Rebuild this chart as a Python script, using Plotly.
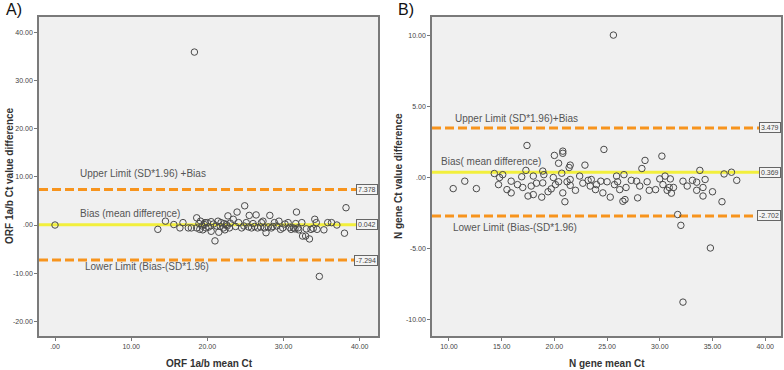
import plotly.graph_objects as go

# ---------------- Panel A data (ORF 1a/b) ----------------
orf_mean = [0.0, 13.5, 14.5, 15.6, 16.4, 16.8, 17.5, 17.9, 18.6, 18.6, 19.0, 19.1, 19.7, 19.8, 20.0,
            20.5, 21.0, 21.2, 21.4, 21.5, 21.8, 22.1, 22.5, 22.7, 22.9, 23.4, 23.9, 24.1, 24.5, 24.9,
            25.1, 25.5, 25.8, 26.4, 26.6, 27.1, 27.5, 27.7, 28.2, 28.4, 28.8, 29.4, 29.9, 30.6, 31.0,
            31.3, 31.7, 31.9, 32.5, 32.9, 33.4, 33.6, 34.1, 34.3, 34.7, 35.3, 35.8, 36.3, 37.0, 38.0,
            38.2, 18.3,
            18.9, 19.3, 19.6, 20.2, 20.8, 21.7, 22.2, 22.6, 22.3, 23.0, 23.7, 24.8, 25.4, 26.0, 26.2,
            27.0, 27.3, 28.0, 28.6, 29.1, 29.6, 30.2, 30.8, 31.5, 31.6, 32.0, 32.4, 33.0, 33.9, 34.4,
            20.5, 19.4]
orf_diff = [0.0, -0.9, 0.8, 0.1, -0.6, 0.5, -0.6, -0.6, 1.5, -0.6, -0.9, 0.8, 0.5, -0.6, 0.5,
            -1.3, -3.3, -0.2, 0.8, -1.5, 0.5, -0.6, 0.1, 1.9, -0.6, 1.2, 2.7, 0.5, -0.6, 4.0,
            0.5, 2.0, -0.6, 2.1, -0.6, 0.5, -0.6, -1.6, 2.0, -0.6, 0.5, 0.8, -0.6, 0.5, -0.9,
            -0.6, 2.7, -0.6, -2.3, -2.3, -2.9, -0.9, 1.2, 0.5, -10.7, -1.0, 0.5, 0.5, 0.0, -1.7,
            3.6, 36.0,
            0.3, -0.2, 0.1, -0.4, 0.2, -0.3, 0.3, -0.2, -1.0, 0.4, -0.3, -0.2, -0.4, 0.3, -0.3,
            -0.4, 0.8, -0.4, -0.3, -0.2, -0.9, 0.2, -0.5, -0.8, 0.3, -1.0, 0.5, -0.8, -0.7, -0.9,
            0.7, -1.0]
orf_upper, orf_bias, orf_lower = 7.378, 0.042, -7.294
orf_xticks = [0, 10, 20, 30, 40]
orf_xticklabels = [".00", "10.00", "20.00", "30.00", "40.00"]
orf_yticks = [-20, -10, 0, 10, 20, 30, 40]
orf_yticklabels = ["-20.00", "-10.00", ".00", "10.00", "20.00", "30.00", "40.00"]

# ---------------- Panel B data (N gene) ----------------
n_mean = [25.6, 17.4, 20.0, 20.8, 20.8, 24.7, 28.6, 30.2, 20.4, 21.5, 21.4, 22.9, 18.9, 17.3, 28.3,
          33.8, 36.8, 14.3, 20.7, 11.5, 14.8, 15.1, 15.9, 16.9, 18.0, 18.9, 19.9, 20.4, 21.5, 22.4,
          23.5, 24.4, 25.9, 26.6, 27.8, 28.8, 30.0, 30.5, 31.0, 32.2, 33.5, 34.3, 37.3,
          10.4, 12.6, 14.7, 15.5, 15.9, 17.0, 17.5, 18.0, 18.8, 19.4, 20.8, 21.0, 21.5, 23.4, 23.9,
          24.6, 25.3, 26.2, 26.5, 26.7, 26.8, 27.9, 29.6, 30.9, 31.3, 31.7, 32.0, 32.2, 33.5, 34.1,
          34.1, 35.0, 34.8, 35.9,
          16.5, 17.8, 18.3, 19.0, 19.7, 20.1, 21.2, 22.0, 22.7, 23.2, 24.0, 25.0, 25.7, 26.0, 27.3,
          28.1, 29.0, 30.3, 30.7, 31.1, 32.6, 33.1, 36.1]
n_diff = [10.0, 2.25, 1.55, 1.85, 1.7, 1.97, 1.2, 1.5, 1.0, 0.87, 0.7, 0.87, 0.45, 0.5, 0.63,
          0.5, 0.37, 0.28, 0.3, -0.26, 0.0, 0.2, -0.26, 0.05, 0.1, -0.38, 0.0, -0.3, -0.14, 0.1,
          -0.14, -0.26, 0.1, 0.2, -0.26, -0.3, -0.1, 0.1, -0.1, -0.26, -0.33, -0.14, -0.2,
          -0.78, -0.78, -0.5, -0.85, -1.08, -0.7, -1.3, -1.2, -1.38, -1.0, -1.08, -1.7, -0.55, -0.6, -0.85,
          -1.08, -1.38, -0.85, -1.67, -1.55, -0.7, -1.43, -0.85, -0.7, -0.7, -2.6, -3.36, -8.75, -0.9, -0.7,
          -1.3, -1.0, -4.95, -1.7,
          -0.5, -0.6, -0.4, 0.2, -0.8, -0.5, -0.3, -0.9, -0.4, -0.2, -0.5, -0.3, -0.5, -0.3, -0.2,
          -0.6, -0.9, -0.5, -0.9, -1.1, -0.6, -0.2, 0.25]
n_upper, n_bias, n_lower = 3.479, 0.369, -2.702
n_xticks = [10, 15, 20, 25, 30, 35, 40]
n_xticklabels = ["10.00", "15.00", "20.00", "25.00", "30.00", "35.00", "40.00"]
n_yticks = [-10, -5, 0, 5, 10]
n_yticklabels = ["-10.00", "-5.00", ".00", "5.00", "10.00"]

W, H = 784, 370
FONT = "Liberation Sans, Arial, sans-serif"
ORANGE = "#f7941d"
YELLOW = "#f2ef3c"
PT = "#4a4a4a"
DASH = "9px,4px"

fig = go.Figure()

panels = [
    dict(xa="x", ya="y", mean=orf_mean, diff=orf_diff, up=orf_upper, bias=orf_bias, lo=orf_lower,
         xr=[-2.1, 42.4], yr=[-23.1, 43.3]),
    dict(xa="x2", ya="y2", mean=n_mean, diff=n_diff, up=n_upper, bias=n_bias, lo=n_lower,
         xr=[8.39, 41.5], yr=[-11.13, 11.27]),
]

for p in panels:
    x0, x1 = p["xr"]
    fig.add_trace(go.Scatter(x=[x0, x1], y=[p["up"], p["up"]], mode="lines", xaxis=p["xa"], yaxis=p["ya"],
                             line=dict(color=ORANGE, width=3, dash=DASH), hoverinfo="skip", showlegend=False))
    fig.add_trace(go.Scatter(x=[x0, x1], y=[p["lo"], p["lo"]], mode="lines", xaxis=p["xa"], yaxis=p["ya"],
                             line=dict(color=ORANGE, width=3, dash=DASH), hoverinfo="skip", showlegend=False))
    fig.add_trace(go.Scatter(x=[x0, x1], y=[p["bias"], p["bias"]], mode="lines", xaxis=p["xa"], yaxis=p["ya"],
                             line=dict(color=YELLOW, width=3), hoverinfo="skip", showlegend=False))
    fig.add_trace(go.Scatter(x=p["mean"], y=p["diff"], mode="markers", xaxis=p["xa"], yaxis=p["ya"],
                             marker=dict(symbol="circle-open", size=6.5, color=PT, line=dict(width=1, color=PT)),
                             showlegend=False))

axis_common = dict(showgrid=False, zeroline=False, showline=True, mirror=True, linecolor="#7a7a7a",
                   linewidth=1.5, ticks="outside", ticklen=3, tickcolor="#777",
                   tickfont=dict(family=FONT, size=7, color="#444444"))

fig.update_layout(
    width=W, height=H,
    margin=dict(l=0, r=0, t=0, b=0),
    paper_bgcolor="white", plot_bgcolor="#f0f0f0",
    showlegend=False,
    xaxis=dict(domain=[39 / W, 378 / W], range=panels[0]["xr"], tickvals=orf_xticks, ticktext=orf_xticklabels,
               anchor="y", **axis_common),
    yaxis=dict(domain=[1 - 336 / H, 1 - 17 / H], range=panels[0]["yr"], tickvals=orf_yticks,
               ticktext=orf_yticklabels, anchor="x", **axis_common),
    xaxis2=dict(domain=[432 / W, 781 / W], range=panels[1]["xr"], tickvals=n_xticks, ticktext=n_xticklabels,
                anchor="y2", **axis_common),
    yaxis2=dict(domain=[1 - 336 / H, 1 - 17 / H], range=panels[1]["yr"], tickvals=n_yticks,
                ticktext=n_yticklabels, anchor="x2", **axis_common),
)

lab_font = dict(family=FONT, size=10, color="#555")
ann = []


def lab(x, y, xref, yref, text):
    return dict(x=x, y=y, xref=xref, yref=yref, text=text, showarrow=False,
                xanchor="left", yanchor="middle", font=lab_font)


ann.append(lab(3.0, 10.7, "x", "y", "Upper Limit (SD*1.96) +Bias"))
ann.append(lab(3.0, 2.3, "x", "y", "Bias (mean difference)"))
ann.append(lab(3.7, -8.6, "x", "y", "Lower Limit (Bias-(SD*1.96)"))
ann.append(lab(10.4, 4.15, "x2", "y2", "Upper Limit (SD*1.96)+Bias"))
ann.append(lab(9.05, 1.13, "x2", "y2", "Bias( mean difference)"))
ann.append(lab(10.2, -3.5, "x2", "y2", "Lower Limit (Bias-(SD*1.96)"))

box_font = dict(family=FONT, size=7, color="#444")
for xr, yr, vals in [("x domain", "y", [orf_upper, orf_bias, orf_lower]),
                     ("x2 domain", "y2", [n_upper, n_bias, n_lower])]:
    for v in vals:
        ann.append(dict(x=1, y=v, xref=xr, yref=yr, text=f"{v:.3f}", showarrow=False, xanchor="right",
                        yanchor="middle", font=box_font, bgcolor="#f4f4f4", bordercolor="#666",
                        borderwidth=1, borderpad=1))

title_font = dict(family=FONT, size=10, color="#333")


def ptxt(x, y, text, font, angle=0, xanchor="center"):
    return dict(x=x / W, y=1 - y / H, xref="paper", yref="paper", text=text, textangle=angle,
                showarrow=False, xanchor=xanchor, yanchor="middle", font=font)


ann.append(ptxt(9, 176, "<b>ORF 1a/b Ct value difference</b>", title_font, -90))
ann.append(ptxt(398, 176, "<b>N gene Ct value difference</b>", title_font, -90))
ann.append(ptxt(209, 363, "<b>ORF 1a/b mean Ct</b>", title_font))
ann.append(ptxt(607, 363, "<b>N gene mean Ct</b>", title_font))
ann.append(ptxt(4, 10, "A)", dict(family=FONT, size=16, color="#111"), 0, "left"))
ann.append(ptxt(396, 10, "B)", dict(family=FONT, size=16, color="#111"), 0, "left"))

fig.update_layout(annotations=ann)
fig.write_html("out.html", config={"displayModeBar": False},
               post_script="document.body.style.margin='0';document.body.style.padding='0';"
                           "document.documentElement.style.overflow='hidden';")
